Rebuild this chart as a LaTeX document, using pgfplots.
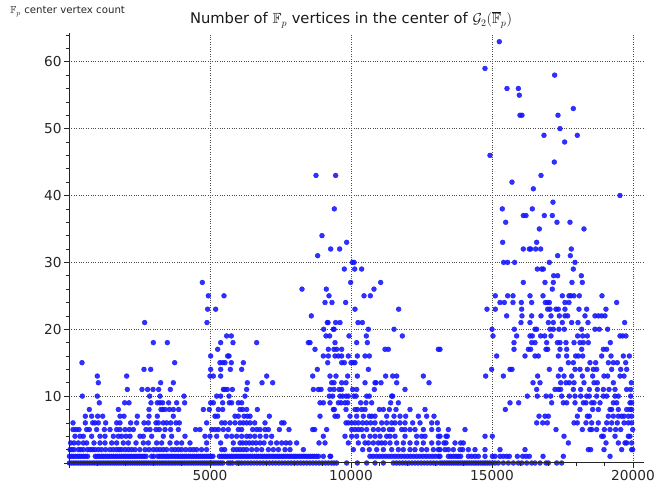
\documentclass[border=0pt]{standalone}
\usepackage{amssymb}
\usepackage{fontspec}
\setmainfont{DejaVu Sans}
\usepackage{pgfplots}
\pgfplotsset{compat=1.18}
\definecolor{dotblue}{RGB}{20,20,255}
\pgfplotsset{dots/.style={dotblue,only marks,mark=*,mark size=2.45bp,mark options={draw=none,fill=dotblue,opacity=.88}}}
\begin{document}
\begin{tikzpicture}
\useasboundingbox (0bp,0bp) rectangle (655bp,492bp);
\node[anchor=west,inner sep=0pt,font=\fontsize{10.2bp}{11bp}\selectfont,text=black!85] at (10bp,480.5bp) {$\mathbb{F}_p$ center vertex count};
\node[anchor=center,inner sep=0pt,font=\fontsize{14.7bp}{16bp}\selectfont,text=black!90] at (351bp,472.5bp) {Number of $\mathbb{F}_p$ vertices in the center of $\mathcal{G}_2(\overline{\mathbb{F}}_p)$};
\begin{axis}[at={(69bp,29bp)},anchor=origin,scale only axis,width=575bp,height=430bp,
 xmin=0,xmax=20390,ymin=0,ymax=64.3,clip=false,
 axis x line=bottom,axis y line=left,axis line style={-,black!85,line width=1bp},
 xtick={5000,10000,15000,20000},ytick={10,20,30,40,50,60},
 scaled x ticks=false,
 /pgf/number format/1000 sep={},
 /pgf/number format/assume math mode=true,
 tick label style={font=\fontsize{13.7bp}{15bp}\selectfont,text=black!85},
 major tick length=0pt,
 grid=major,major grid style={black!70,dotted,line width=.6bp},
 xticklabel shift=4bp,yticklabel shift=4bp,
]
\addplot[dots] coordinates {(15259,63)(14751,59)(17221,58)(15531,56)(15933,56)(15968,55)(17883,53)(15992,52)(16063,52)(17340,52)(17410,50)(16843,49)(18025,49)(17576,48)(14928,46)(17209,45)(8759,43)(9456,43)(16737,43)(15708,42)(16465,41)(19538,40)(17162,39)(15365,38)(16429,38)(9409,38)(16110,37)(16205,37)(16855,37)(17138,37)(15484,36)(17304,36)(17765,36)(16678,35)(18261,35)(8971,34)(15377,33)(16583,33)(9846,33)(16110,32)(16323,32)(16370,32)(16548,32)(16725,32)(17812,32)(9279,32)(9598,32)(17328,31)(17777,31)(8818,31)(15413,30)(15555,30)(15803,30)(17032,30)(17942,30)(10050,30)(10110,30)(16607,29)(16760,29)(16820,29)(17883,29)(9763,29)(10130,29)(10378,29)(17186,28)(17328,28)(18167,28)(16110,27)(16879,27)(17174,27)(17836,27)(18202,27)(4728,27)(9988,27)(11052,27)(17138,26)(8262,26)(9125,26)(10815,26)};
\addplot[dots] coordinates {(15117,25)(15555,25)(15744,25)(16347,25)(16808,25)(17493,25)(17730,25)(17800,25)(17907,25)(18096,25)(18900,25)(4941,25)(5496,25)(9220,25)(10461,25)(10685,25)(15283,24)(15437,24)(15744,24)(16039,24)(16406,24)(16890,24)(16961,24)(17032,24)(17587,24)(17730,24)(19420,24)(9078,24)(9326,24)(9811,24)(14822,23)(15117,23)(16051,23)(16973,23)(17056,23)(17268,23)(17351,23)(17587,23)(18084,23)(18356,23)(19041,23)(4917,23)(5201,23)(10141,23)(11690,23)(15519,22)(16063,22)(16406,22)(16737,22)(17091,22)(17387,22)(17587,22)(17682,22)(18297,22)(18651,22)(18770,22)(18888,22)(19006,22)(8593,22)(16027,21)(16347,21)(16997,21)(17174,21)(17493,21)(17824,21)(18049,21)(18403,21)(19703,21)(2683,21)(4893,21)(9160,21)(9184,21)(9456,21)(9610,21)(10248,21)(10402,21)(15000,20)(15791,20)(16524,20)(16583,20)(17056,20)(17174,20)(17375,20)(17564,20)(18178,20)(18651,20)(18805,20)(19100,20)(9030,20)(9373,20)(9400,20)(10614,20)(11525,20)(15035,19)(15874,19)(16347,19)(16429,19)(16725,19)(16867,19)(17091,19)(18037,19)(18214,19)(18380,19)(19538,19)(19632,19)(19750,19)(5591,19)(5756,19)(9113,19)(9243,19)(9929,19)(10543,19)(11820,19)};
\addplot[dots] coordinates {(2990,18)(3487,18)(5378,18)(5815,18)(6655,18)(8487,18)(8546,18)(9433,18)(10201,18)(10579,18)(15780,18)(16407,18)(16525,18)(16938,18)(17317,18)(17411,18)(17624,18)(17908,18)(18120,18)(18239,18)(18416,18)(19196,18)(5272,17)(8723,17)(9196,17)(9397,17)(9492,17)(9669,17)(11206,17)(11324,17)(13097,17)(13156,17)(15780,17)(16288,17)(16371,17)(16915,17)(16974,17)(17411,17)(17648,17)(18180,17)(18948,17)(19066,17)(5023,16)(5626,16)(5674,16)(9019,16)(9196,16)(9433,16)(9551,16)(9669,16)(9906,16)(10225,16)(10497,16)(10650,16)(15165,16)(16170,16)(16525,16)(16643,16)(17352,16)(17648,16)(17967,16)(18061,16)(18215,16)(18889,16)(19220,16)(19657,16)(19870,16)(461,15)(3747,15)(5354,15)(5449,15)(5532,15)(5756,15)(6182,15)(9173,15)(9669,15)(9764,15)(10000,15)(10083,15)(10142,15)(17707,15)(17884,15)(18475,15)(18676,15)(19125,15)(19303,15)(19444,15)(19740,15)(2659,14)(2896,14)(5023,14)(5378,14)(5721,14)(6123,14)(8806,14)(10615,14)(14988,14)(15638,14)(15709,14)(17033,14)(17435,14)(17943,14)(18120,14)(18380,14)(18593,14)(18711,14)(19243,14)(19563,14)(19775,14)(1004,13)(2045,13)(5000,13)(5118,13)(5378,13)(7010,13)(8641,13)(9255,13)(9468,13)(9882,13)(10225,13)(11229,13)(11478,13)(11620,13)(12565,13)(14775,13)(15402,13)(16619,13)(17352,13)(17553,13)(17825,13)(18203,13)(18569,13)(18971,13)(19101,13)(19539,13)(19681,13)(1040,12)(3250,12)(3700,12)(6324,12)(6844,12)(7222,12)(9315,12)(9397,12)(9669,12)(9823,12)(10497,12)(10851,12)(10887,12)(11064,12)(11620,12)(12766,12)(16454,12)(16702,12)(17435,12)(17624,12)(17742,12)(17908,12)(18262,12)(18617,12)(18735,12)(19303,12)(19941,12)};
\addplot[dots] coordinates {(2068,11)(2589,11)(2789,11)(2979,11)(3180,11)(3593,11)(5473,11)(5532,11)(5614,11)(5792,11)(6300,11)(8664,11)(8841,11)(8936,11)(9255,11)(9397,11)(9575,11)(9669,11)(10059,11)(10201,11)(10827,11)(11915,11)(16584,11)(17234,11)(17352,11)(17435,11)(17884,11)(18144,11)(18451,11)(18735,11)(18948,11)(19149,11)(19362,11)(19775,11)(19917,11)(473,10)(1004,10)(2860,10)(3227,10)(4078,10)(5236,10)(5378,10)(5674,10)(6241,10)(9232,10)(9350,10)(9610,10)(9705,10)(9823,10)(9906,10)(10100,10)(10180,10)(10556,10)(10650,10)(11442,10)(11478,10)(16253,10)(16607,10)(16915,10)(17080,10)(17470,10)(17742,10)(17943,10)(18144,10)(18357,10)(18451,10)(18711,10)(18948,10)(19066,10)(19362,10)(19480,10)(19917,10)(1075,9)(1974,9)(2127,9)(2907,9)(3132,9)(3227,9)(3321,9)(3534,9)(3818,9)(4101,9)(5023,9)(5118,9)(5449,9)(5685,9)(5768,9)(6004,9)(6123,9)(8901,9)(9019,9)(9255,9)(9551,9)(9646,9)(9787,9)(9882,9)(10343,9)(10532,9)(10733,9)(11406,9)(11679,9)(15638,9)(15945,9)(17116,9)(17529,9)(17648,9)(17943,9)(18239,9)(18333,9)(18534,9)(18617,9)(18830,9)(19303,9)(19421,9)(19893,9)(19953,9)(721,8)(1749,8)(2837,8)(3262,8)(3321,8)(3404,8)(3558,8)(3699,8)(3889,8)(4763,8)(4976,8)(5295,8)(5449,8)(6063,8)(6158,8)(6300,8)(6679,8)(9374,8)(9409,8)(9823,8)(10142,8)(10225,8)(10379,8)(10497,8)(11005,8)(11147,8)(11360,8)(11596,8)(12092,8)(12624,8)(15473,8)(18120,8)(18569,8)(18770,8)(19185,8)(19243,8)(19480,8)(19775,8)(19893,8)(19953,8)};
\addplot[dots] coordinates {(579,7)(803,7)(1016,7)(1194,7)(1808,7)(1950,7)(2423,7)(2837,7)(3132,7)(3699,7)(5177,7)(5271,7)(5886,7)(6004,7)(6206,7)(6324,7)(6419,7)(7104,7)(8901,7)(9433,7)(9527,7)(9965,7)(10201,7)(10437,7)(10650,7)(10733,7)(10851,7)(11265,7)(11525,7)(11737,7)(11939,7)(12388,7)(12683,7)(12943,7)(16667,7)(16879,7)(16998,7)(18026,7)(18380,7)(18451,7)(19125,7)(19303,7)(19480,7)(19598,7)(19681,7)(19834,7)(19953,7)(142,6)(579,6)(839,6)(922,6)(1040,6)(1300,6)(1690,6)(1808,6)(2186,6)(2399,6)(2659,6)(2813,6)(3085,6)(3167,6)(3345,6)(3463,6)(3605,6)(3794,6)(3912,6)(4881,6)(5413,6)(5532,6)(5709,6)(5886,6)(6064,6)(6182,6)(6300,6)(6419,6)(6584,6)(6950,6)(7542,6)(7624,6)(9823,6)(9906,6)(10024,6)(10142,6)(10260,6)(10414,6)(10556,6)(10697,6)(10851,6)(11088,6)(11265,6)(11442,6)(11560,6)(11737,6)(11915,6)(12187,6)(12447,6)(12861,6)(13061,6)(16584,6)(16797,6)(16962,6)(17908,6)(18026,6)(18333,6)(18534,6)(18770,6)(19066,6)(19243,6)(19444,6)(19681,6)(19834,6)(19953,6)(142,5)(248,5)(354,5)(626,5)(721,5)(981,5)(1253,5)(1454,5)(1690,5)(1808,5)(1986,5)(2139,5)(2281,5)(2730,5)(2872,5)(3085,5)(3203,5)(3404,5)(3605,5)(3877,5)(4491,5)(4645,5)(5059,5)(5177,5)(5295,5)(5472,5)(5650,5)(6004,5)(6123,5)(6513,5)(6655,5)(6773,5)(6950,5)(7069,5)(7459,5)(7801,5)(8641,5)(8712,5)(9137,5)(10024,5)(10142,5)(10260,5)(10379,5)(10556,5)(10792,5)(10969,5)(11147,5)(11360,5)(11478,5)(11797,5)(11915,5)(12092,5)(12270,5)(12565,5)(12861,5)(13097,5)(13451,5)(14043,5)(17269,5)(18203,5)(18475,5)(18534,5)(18711,5)(18983,5)(19185,5)(19385,5)(19563,5)(19988,5)};
\addplot[dots] coordinates {(212,4)(390,4)(508,4)(803,4)(1099,4)(1276,4)(1572,4)(1749,4)(1867,4)(2021,4)(2163,4)(2517,4)(2636,4)(2931,4)(3345,4)(3640,4)(4113,4)(4822,4)(4999,4)(5236,4)(5590,4)(5768,4)(5945,4)(6123,4)(6300,4)(6419,4)(6584,4)(6773,4)(6986,4)(7187,4)(9019,4)(9787,4)(10024,4)(10201,4)(10437,4)(10674,4)(10851,4)(11029,4)(11265,4)(11383,4)(11560,4)(11915,4)(12329,4)(12506,4)(12624,4)(13097,4)(13156,4)(13369,4)(13416,4)(14752,4)(15012,4)(17553,4)(18889,4)(18948,4)(19362,4)(19834,4)(19893,4)(59,3)(177,3)(331,3)(508,3)(626,3)(886,3)(1099,3)(1276,3)(1513,3)(1690,3)(1926,3)(2104,3)(2376,3)(2636,3)(2813,3)(3108,3)(3286,3)(3581,3)(3818,3)(3995,3)(4290,3)(4881,3)(5378,3)(5827,3)(6064,3)(6159,3)(6277,3)(6395,3)(6513,3)(6631,3)(6773,3)(6915,3)(7152,3)(7364,3)(7542,3)(7695,3)(7837,3)(8073,3)(8865,3)(9078,3)(9906,3)(10260,3)(10497,3)(10615,3)(10792,3)(10969,3)(11088,3)(11206,3)(11383,3)(11620,3)(11856,3)(12092,3)(12329,3)(12565,3)(12861,3)(13097,3)(13298,3)(13369,3)(13688,3)(13889,3)(13983,3)(17707,3)(19042,3)(19480,3)(19716,3)(19775,3)(19953,3)};
\addplot[dots] coordinates {(35,2)(105,2)(177,2)(331,2)(414,2)(508,2)(650,2)(744,2)(830,2)(922,2)(1040,2)(1158,2)(1300,2)(1454,2)(1570,2)(1690,2)(1780,2)(1867,2)(1990,2)(2104,2)(2220,2)(2340,2)(2510,2)(2695,2)(2840,2)(2990,2)(3110,2)(3227,2)(3345,2)(3463,2)(3640,2)(3758,2)(3880,2)(3995,2)(4140,2)(4290,2)(4410,2)(4527,2)(4700,2)(4881,2)(5413,2)(5520,2)(5827,2)(5950,2)(6064,2)(6182,2)(6300,2)(6478,2)(6655,2)(6832,2)(7069,2)(7246,2)(7424,2)(7660,2)(7837,2)(8310,2)(10083,2)(10414,2)(10650,2)(10910,2)(11147,2)(11442,2)(11678,2)(11856,2)(12092,2)(12270,2)(12506,2)(12683,2)(12920,2)(13097,2)(13156,2)(13333,2)(13451,2)(13629,2)(13865,2)(13960,2)(14161,2)(14397,2)(14752,2)(15284,2)(16170,2)(18416,2)(18499,2)(18971,2)(19598,2)(19953,2)(19988,2)};
\addplot[dots] coordinates {(15,1)(85,1)(150,1)(225,1)(300,1)(370,1)(440,1)(515,1)(590,1)(660,1)(930,1)(1000,1)(1070,1)(1145,1)(1215,1)(1290,1)(1360,1)(1430,1)(1505,1)(1575,1)(1650,1)(1720,1)(1795,1)(1865,1)(1940,1)(2010,1)(2080,1)(2155,1)(2225,1)(2300,1)(2370,1)(2445,1)(2515,1)(2590,1)(2660,1)(2735,1)(2930,1)(3005,1)(3150,1)(3220,1)(3295,1)(3365,1)(3440,1)(3510,1)(3585,1)(3655,1)(3730,1)(3800,1)(3875,1)(3945,1)(4020,1)(4090,1)(4165,1)(4235,1)(4310,1)(4380,1)(4455,1)(4525,1)(4600,1)(4670,1)(4745,1)(4815,1)(4890,1)(4960,1)(5035,1)(5105,1)(5330,1)(5405,1)(5480,1)(5550,1)(5625,1)(5700,1)(5770,1)(5845,1)(5915,1)(5990,1)(6064,1)(6135,1)(6210,1)(6285,1)(6355,1)(6430,1)(6500,1)(6575,1)(6650,1)(6720,1)(6795,1)(6870,1)(6940,1)(7015,1)(7090,1)(7160,1)(7235,1)(7310,1)(7380,1)(7455,1)(7530,1)(7600,1)(7675,1)(7750,1)(7820,1)(7895,1)(7970,1)(8040,1)(8115,1)(8190,1)(8260,1)(8335,1)(8410,1)(8480,1)(8555,1)(8630,1)(8700,1)(8775,1)(8850,1)(9020,1)(9255,1)(9280,1)(10670,1)(10780,1)(10900,1)(11010,1)(11120,1)(11230,1)(11340,1)(11450,1)(11560,1)(11670,1)(11780,1)(11890,1)(12000,1)(12110,1)(12220,1)(12330,1)(12440,1)(12550,1)(12660,1)(12770,1)(12880,1)(12990,1)(13100,1)(13156,1)(13451,1)(13534,1)(13629,1)(13723,1)(13806,1)(13889,1)(14161,1)(14279,1)(14397,1)(14515,1)(14752,1)(15012,1)(15106,1)(15284,1)(15402,1)(15520,1)(15615,1)(15898,1)(16087,1)(16206,1)(16324,1)(16809,1)(17529,1)(19185,1)};
\addplot[dots] coordinates {(15,0)(95,0)(175,0)(255,0)(335,0)(415,0)(495,0)(575,0)(655,0)(735,0)(815,0)(895,0)(975,0)(1055,0)(1135,0)(1215,0)(1295,0)(1375,0)(1455,0)(1535,0)(1615,0)(1695,0)(1775,0)(1855,0)(1935,0)(2015,0)(2095,0)(2175,0)(2255,0)(2335,0)(2415,0)(2495,0)(2575,0)(2655,0)(2735,0)(2815,0)(2895,0)(2975,0)(3055,0)(3135,0)(3215,0)(3295,0)(3375,0)(3455,0)(3535,0)(3615,0)(3695,0)(3775,0)(3855,0)(3935,0)(4015,0)(4095,0)(4175,0)(4255,0)(4335,0)(4415,0)(4495,0)(4575,0)(4655,0)(4735,0)(4815,0)(4895,0)(4975,0)(5055,0)(5135,0)(5215,0)(5295,0)(5375,0)(5455,0)(5640,0)(5720,0)(5800,0)(5950,0)(6030,0)(6120,0)(6230,0)(6340,0)(6450,0)(6560,0)(6670,0)(6780,0)(6890,0)(7000,0)(7110,0)(7220,0)(7330,0)(7440,0)(7550,0)(7660,0)(7770,0)(7880,0)(7990,0)(8100,0)(8210,0)(8320,0)(8430,0)(8540,0)(8650,0)(8760,0)(8870,0)(8980,0)(9090,0)(9200,0)(9310,0)(9400,0)(9490,0)(9846,0)(10225,0)(10556,0)(10851,0)(11147,0)(11500,0)(11610,0)(11720,0)(11830,0)(11940,0)(12050,0)(12160,0)(12270,0)(12380,0)(12490,0)(12600,0)(12710,0)(12820,0)(12930,0)(13040,0)(13156,0)(13236,0)(13316,0)(13396,0)(13476,0)(13556,0)(13636,0)(13716,0)(13796,0)(13876,0)(13956,0)(14036,0)(14116,0)(14196,0)(14276,0)(14356,0)(14436,0)(14516,0)(14596,0)(14676,0)(14756,0)(14836,0)(14916,0)(15012,0)(15106,0)(15224,0)(15402,0)(15579,0)(15757,0)(15934,0)(16052,0)(16229,0)(16407,0)(16525,0)(16702,0)(16915,0)(16998,0)(17293,0)(17470,0)};
\end{axis}
\draw[black!85,line width=1bp] (69bp,29bp) -- (644bp,29bp);
\draw[black!85,line width=1bp] (69bp,29bp) -- (69bp,459bp);
\foreach \px in {69,210,351,492,633} \draw[black!85,line width=.8bp] (\px bp,29bp) -- (\px bp,24bp);
\foreach \px in {97.2,125.4,153.6,181.8,238.2,266.4,294.6,322.8,379.2,407.4,435.6,463.8,520.2,548.4,576.6,604.8} \draw[black!85,line width=.7bp] (\px bp,29bp) -- (\px bp,26bp);
\foreach \py in {29,95.9,162.7,229.6,296.5,363.4,430.3} \draw[black!85,line width=.8bp] (69bp,\py bp) -- (64bp,\py bp);
\foreach \py in {42.4,55.8,69.1,82.5,109.3,122.6,136,149.4,176.1,189.5,202.9,216.2,243,256.3,269.7,283.1,309.8,323.2,336.6,349.9,376.7,390,403.4,416.8,443.6,457} \draw[black!85,line width=.7bp] (69bp,\py bp) -- (66bp,\py bp);
\end{tikzpicture}
\end{document}
